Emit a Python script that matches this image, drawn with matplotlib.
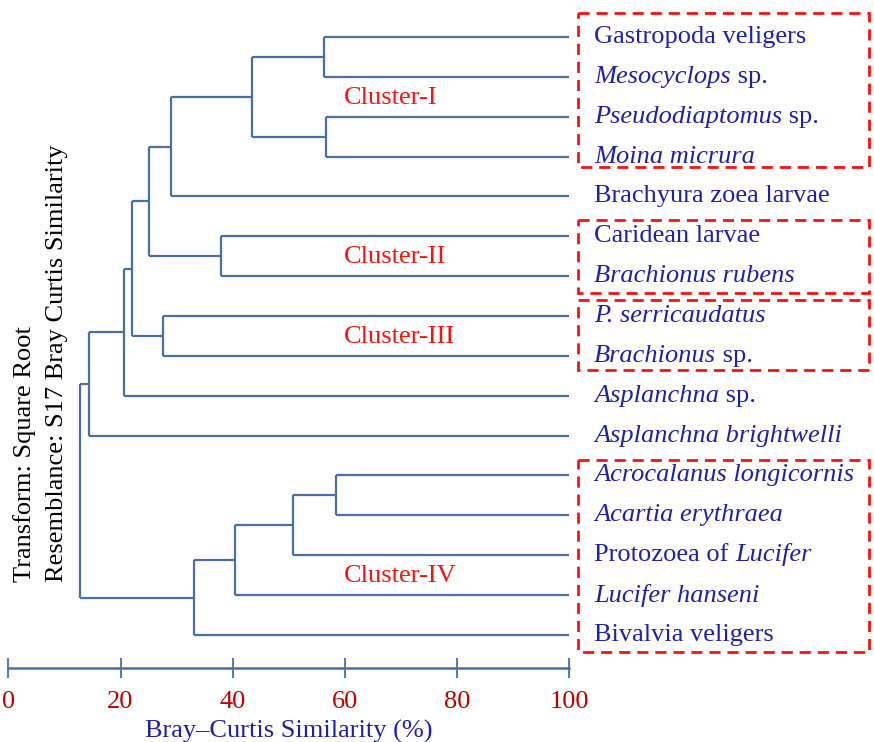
import numpy as np
import matplotlib.pyplot as plt
from matplotlib.patches import Rectangle
from matplotlib.transforms import blended_transform_factory

plt.rcParams['font.family'] = ['Liberation Serif', 'DejaVu Serif']

# --- data: leaves top to bottom, (text, italic) pieces ---
leaves = [
    [("Gastropoda veligers", False)],
    [("Mesocyclops", True), (" sp.", False)],
    [("Pseudodiaptomus", True), (" sp.", False)],
    [("Moina micrura", True)],
    [("Brachyura zoea larvae", False)],
    [("Caridean larvae", False)],
    [("Brachionus rubens", True)],
    [("P. serricaudatus", True)],
    [("Brachionus", True), (" sp.", False)],
    [("Asplanchna", True), (" sp.", False)],
    [("Asplanchna brightwelli", True)],
    [("Acrocalanus longicornis", True)],
    [("Acartia erythraea", True)],
    [("Protozoea of ", False), ("Lucifer", True)],
    [("Lucifer hanseni", True)],
    [("Bivalvia veligers", False)],
]

# merges: node ids 16.. in order, (child a, child b, similarity %)
merge_a   = [0, 2, 16, 18, 5, 19, 7, 21, 23, 24, 11, 26, 27, 28, 25]
merge_b   = [1, 3, 17, 4, 6, 20, 8, 22, 9, 10, 12, 13, 14, 15, 29]
merge_sim = [56.3, 56.6, 43.4, 29.0, 37.9, 25.1, 27.6, 22.05, 20.6, 14.4,
             58.5, 50.75, 40.4, 33.1, 12.8]

clusters      = ["Cluster-I", "Cluster-II", "Cluster-III", "Cluster-IV"]
cluster_first = [0, 5, 7, 11]
cluster_last  = [3, 6, 8, 15]
cluster_row   = [1.5, 5.5, 7.5, 13.5]   # row where the cluster name sits

xticks = [0, 20, 40, 60, 80, 100]

line_col = "#4a6ea6"
text_col = "#1f1fb0"
tick_col = "#c00000"
red = "#ff1010"
fs = 19

fig = plt.figure(figsize=(8.74, 7.42), dpi=100)
ax = fig.add_axes([0, 74 / 742, 1, 668 / 742])
ax.set_xlim(-8.3 / 5.61, (874 - 8.3) / 5.61)
ax.set_ylim(15.83, -0.93)

# --- dendrogram ---
n = len(leaves)
xpos = {i: 100.0 for i in range(n)}
ypos = {i: float(i) for i in range(n)}
for k, (a, b, s) in enumerate(zip(merge_a, merge_b, merge_sim)):
    node = n + k
    ax.plot([s, s], [ypos[a], ypos[b]], color=line_col, lw=1.6, solid_capstyle='butt')
    ax.plot([s, xpos[a]], [ypos[a], ypos[a]], color=line_col, lw=1.6, solid_capstyle='butt')
    ax.plot([s, xpos[b]], [ypos[b], ypos[b]], color=line_col, lw=1.6, solid_capstyle='butt')
    xpos[node] = s
    ypos[node] = (ypos[a] + ypos[b]) / 2

# --- leaf labels (mixed italic / upright) ---
for i, parts in enumerate(leaves):
    t = None
    for s, it in parts:
        st = 'italic' if it else 'normal'
        if t is None:
            t = ax.text(104.4, i, s, style=st, color=text_col, fontsize=fs,
                        va='center', ha='left', clip_on=False)
        else:
            t = ax.annotate(s, xy=(1, 0), xycoords=t, style=st, color=text_col,
                            fontsize=fs, va='bottom', ha='left', annotation_clip=False)

# --- cluster labels and dashed boxes ---
top_pad = [0.6, 0.41, 0.4, 0.4]
bot_pad = [0.26, 0.42, 0.35, 0.42]
for name, f, l, r, tp, bp in zip(clusters, cluster_first, cluster_last, cluster_row,
                                 top_pad, bot_pad):
    ax.text(59.8, r + 0.02, name, color=red, fontsize=fs, va='center', ha='left')
    ax.add_patch(Rectangle((101.6, f - tp), 51.8, (l + bp) - (f - tp), fill=False,
                           edgecolor=red, lw=2, linestyle=(0, (4, 2.5)), clip_on=False))

# --- axis ---
for sp in ['top', 'left', 'right']:
    ax.spines[sp].set_visible(False)
ax.spines['bottom'].set_bounds(0, 100)
ax.spines['bottom'].set_color(line_col)
ax.spines['bottom'].set_linewidth(1.8)
ax.set_xticks(xticks)
ax.set_yticks([])
ax.tick_params(axis='x', direction='inout', length=15, width=1.3, color=line_col,
               labelcolor=tick_col, labelsize=fs, pad=9)
ax.patch.set_visible(False)

tr = blended_transform_factory(ax.transData, fig.transFigure)
ax.text(50, 1 - 731 / 742, "Bray\u2013Curtis Similarity (%)", transform=tr,
        color=text_col, fontsize=fs, ha='center', va='center')

fig.text(25 / 874, 1 - 582 / 742, "Transform: Square Root", rotation=90,
         ha='center', va='bottom', fontsize=fs, color='black')
fig.text(57 / 874, 1 - 582 / 742, "Resemblance: S17 Bray Curtis Similarity", rotation=90,
         ha='center', va='bottom', fontsize=fs, color='black')

fig.savefig("out.png", dpi=100)
